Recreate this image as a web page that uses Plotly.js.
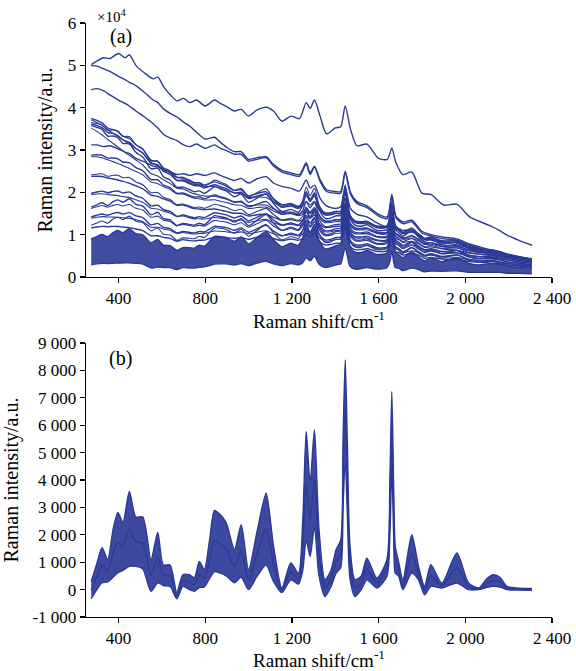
<!DOCTYPE html>
<html><head><meta charset="utf-8">
<script src="https://cdn.plot.ly/plotly-3.0.1.min.js"></script>
<style>html,body{margin:0;padding:0;background:#fff}#chart{width:576px;height:671px}</style>
</head><body><div id="chart"></div>
<script>
// ---------- Panel (a): raw spectra, intensity in units of 1e4 ----------
const shiftA = [274,300,330,360,400,430,450,480,520,560,581,610,640,670,700,730,760,800,843,870,900,935,966,1000,1040,1081,1115,1154,1195,1235,1266,1284,1304,1330,1360,1400,1425,1446,1470,1500,1546,1600,1640,1661,1680,1712,1753,1800,1841,1900,1961,2020,2100,2150,2200,2250,2307];
const rawTop1 = [5.02,5.10,5.18,5.16,5.28,5.18,5.25,5.00,4.82,4.68,4.72,4.48,4.30,4.16,4.22,4.12,4.18,4.04,4.18,4.10,4.02,3.92,3.96,3.80,3.95,4.01,3.92,3.68,3.80,3.74,4.12,3.98,4.18,3.80,3.38,3.52,3.55,4.04,3.50,3.10,3.14,2.80,2.78,3.04,2.70,2.42,2.48,1.98,1.95,1.70,1.72,1.42,1.24,1.12,0.97,0.86,0.75];
const rawTop2 = [5.00,4.98,4.92,4.86,4.74,4.66,4.60,4.52,4.36,4.18,4.12,3.96,3.86,3.78,3.66,3.56,3.42,3.26,3.30,3.18,3.06,2.96,2.96,2.78,2.82,2.84,2.66,2.52,2.46,2.42,2.70,2.46,2.62,2.30,2.06,2.02,2.02,2.50,2.00,1.78,1.68,1.48,1.42,1.95,1.44,1.30,1.34,1.08,1.00,0.94,0.90,0.78,0.66,0.58,0.52,0.47,0.43];
const rawTop3 = [4.42,4.45,4.40,4.30,4.18,4.10,4.04,3.92,3.78,3.62,3.52,3.36,3.28,3.22,3.12,3.08,3.14,3.04,3.12,3.04,2.98,2.90,2.90,2.74,2.78,2.82,2.62,2.48,2.42,2.38,2.66,2.42,2.60,2.26,2.02,1.98,1.98,2.46,1.96,1.74,1.64,1.44,1.38,1.90,1.40,1.26,1.30,1.04,0.97,0.90,0.87,0.75,0.63,0.55,0.49,0.44,0.40];
const rawTop4 = [3.12,3.12,3.08,3.10,3.02,2.95,2.92,2.80,2.72,2.62,2.60,2.52,2.48,2.42,2.44,2.40,2.44,2.40,2.46,2.40,2.34,2.28,2.33,2.22,2.32,2.37,2.22,2.14,2.10,2.03,2.29,2.10,2.17,1.86,1.68,1.62,1.66,2.13,1.62,1.48,1.42,1.26,1.19,1.58,1.20,1.10,1.12,0.92,0.87,0.80,0.76,0.68,0.60,0.52,0.47,0.43,0.40];

// ---------- Shared Raman-shift grid for the dense families ----------
const shift = [274,300,324,350,375,397,420,450,480,512,550,581,607,638,669,697,727,750,773,796,820,843,870,897,935,966,1000,1040,1081,1115,1154,1195,1230,1250,1266,1284,1304,1325,1353,1380,1404,1425,1436,1446,1456,1468,1491,1520,1546,1592,1638,1652,1661,1670,1677,1692,1712,1753,1784,1812,1841,1892,1961,2015,2061,2100,2130,2160,2192,2250,2307];

// Panel (b): baseline-corrected spectra (upper envelope, a typical one, lower envelope)
const corrHigh = [300,950,1530,1100,2200,2820,2450,3580,2650,2650,1090,2090,900,900,-100,540,540,430,1030,730,1800,2890,2730,2440,1460,2370,730,2150,3520,1600,60,970,600,2500,5770,3890,5840,2200,360,700,1460,1800,5500,8390,5300,1600,360,500,1150,420,1090,4000,7230,3500,1580,1030,360,2000,850,120,910,240,1340,240,60,400,540,450,120,50,40];
const corrMid  = [-20,480,890,690,1320,1720,1570,2210,1750,1700,520,1170,520,510,-220,330,270,180,550,420,1100,1780,1660,1470,850,1410,360,1320,2210,950,-25,660,400,1600,3800,2550,4070,1350,55,400,1030,1300,4250,6600,4000,1000,55,250,750,240,780,3000,5870,2650,1090,760,180,1300,600,-35,510,150,790,120,30,240,330,270,60,15,5];
const corrLow  = [-330,0,250,280,450,620,700,850,850,750,-60,250,150,120,-340,120,0,-60,70,100,400,660,600,500,250,450,0,500,900,300,-110,360,200,700,1820,1210,2300,500,-250,100,600,800,3000,4800,2700,400,-250,0,360,60,480,2000,4500,1800,600,500,0,600,360,-190,120,60,240,0,0,80,120,90,0,-20,-30];

// Panel (a): fluorescence baselines (units of 1e4) of the middle/lower spectra
const baseB1 = [3.75,3.65,3.55,3.45,3.35,3.26,3.17,3.05,2.95,2.85,2.71,2.61,2.53,2.45,2.38,2.32,2.26,2.21,2.17,2.13,2.10,2.07,2.04,2.00,1.96,1.92,1.88,1.84,1.79,1.75,1.71,1.67,1.63,1.61,1.60,1.58,1.56,1.54,1.51,1.48,1.45,1.42,1.40,1.39,1.37,1.36,1.32,1.28,1.24,1.18,1.13,1.11,1.10,1.09,1.08,1.06,1.04,0.99,0.96,0.92,0.89,0.84,0.77,0.71,0.67,0.63,0.60,0.57,0.54,0.48,0.42];
const baseB2 = [3.62,3.53,3.44,3.35,3.26,3.17,3.08,2.96,2.86,2.76,2.63,2.53,2.45,2.37,2.30,2.24,2.18,2.14,2.10,2.06,2.03,2.00,1.97,1.94,1.90,1.86,1.82,1.78,1.73,1.69,1.65,1.61,1.58,1.56,1.55,1.53,1.51,1.49,1.46,1.43,1.40,1.37,1.36,1.34,1.33,1.31,1.28,1.24,1.20,1.14,1.09,1.07,1.06,1.05,1.04,1.03,1.00,0.96,0.93,0.89,0.86,0.81,0.74,0.69,0.65,0.61,0.58,0.55,0.52,0.46,0.41];
const baseB3 = [3.55,3.44,3.33,3.22,3.11,3.01,2.91,2.79,2.68,2.57,2.45,2.36,2.28,2.20,2.13,2.07,2.01,1.97,1.93,1.90,1.87,1.84,1.81,1.79,1.75,1.72,1.69,1.65,1.61,1.58,1.54,1.50,1.47,1.45,1.44,1.42,1.40,1.38,1.35,1.32,1.30,1.27,1.26,1.25,1.23,1.22,1.19,1.15,1.12,1.06,1.01,1.00,0.99,0.98,0.97,0.95,0.93,0.89,0.86,0.83,0.80,0.75,0.69,0.65,0.61,0.57,0.55,0.52,0.49,0.44,0.39];
const baseB4 = [2.88,2.84,2.79,2.74,2.68,2.62,2.56,2.48,2.41,2.34,2.25,2.18,2.12,2.06,2.00,1.95,1.90,1.87,1.84,1.81,1.78,1.76,1.73,1.71,1.68,1.65,1.62,1.59,1.56,1.53,1.49,1.46,1.43,1.41,1.40,1.38,1.36,1.34,1.31,1.28,1.25,1.23,1.22,1.21,1.19,1.18,1.15,1.11,1.08,1.02,0.97,0.96,0.95,0.94,0.93,0.91,0.89,0.85,0.82,0.79,0.76,0.71,0.66,0.62,0.58,0.55,0.52,0.50,0.47,0.42,0.37];
const baseB5 = [2.41,2.38,2.35,2.31,2.27,2.23,2.19,2.13,2.07,2.01,1.94,1.88,1.83,1.78,1.73,1.69,1.65,1.62,1.60,1.58,1.56,1.54,1.52,1.50,1.48,1.46,1.44,1.42,1.40,1.38,1.35,1.32,1.30,1.28,1.27,1.26,1.24,1.22,1.19,1.17,1.14,1.12,1.11,1.10,1.09,1.08,1.05,1.02,0.99,0.94,0.89,0.88,0.87,0.86,0.85,0.84,0.82,0.78,0.75,0.72,0.70,0.66,0.61,0.57,0.54,0.51,0.49,0.46,0.44,0.39,0.35];
const baseB6 = [1.98,1.96,1.94,1.92,1.89,1.86,1.83,1.79,1.74,1.69,1.63,1.58,1.54,1.50,1.46,1.43,1.40,1.38,1.37,1.36,1.35,1.34,1.33,1.32,1.31,1.30,1.29,1.28,1.27,1.25,1.23,1.21,1.19,1.17,1.16,1.15,1.13,1.11,1.09,1.06,1.04,1.02,1.01,1.00,0.99,0.98,0.95,0.92,0.89,0.85,0.80,0.79,0.78,0.77,0.77,0.75,0.73,0.70,0.67,0.65,0.62,0.59,0.55,0.51,0.48,0.46,0.44,0.42,0.40,0.36,0.32];
const baseB7 = [1.62,1.61,1.60,1.58,1.56,1.54,1.52,1.49,1.45,1.41,1.36,1.32,1.29,1.26,1.23,1.21,1.19,1.18,1.17,1.16,1.16,1.16,1.15,1.15,1.15,1.14,1.14,1.13,1.12,1.11,1.10,1.08,1.06,1.05,1.04,1.03,1.01,0.99,0.97,0.95,0.93,0.91,0.90,0.89,0.88,0.87,0.85,0.82,0.79,0.75,0.71,0.70,0.69,0.69,0.68,0.67,0.65,0.62,0.60,0.58,0.56,0.53,0.49,0.46,0.43,0.41,0.39,0.37,0.35,0.32,0.28];
const baseB8 = [1.42,1.41,1.40,1.39,1.37,1.35,1.33,1.30,1.27,1.23,1.18,1.15,1.12,1.09,1.06,1.04,1.03,1.02,1.02,1.02,1.02,1.02,1.02,1.02,1.02,1.02,1.02,1.01,1.00,0.99,0.98,0.97,0.95,0.94,0.93,0.92,0.90,0.89,0.87,0.85,0.83,0.81,0.80,0.80,0.79,0.78,0.76,0.73,0.71,0.67,0.63,0.62,0.62,0.61,0.61,0.60,0.58,0.56,0.54,0.52,0.50,0.47,0.44,0.41,0.39,0.37,0.35,0.33,0.32,0.29,0.26];
const baseB9 = [1.19,1.18,1.17,1.16,1.15,1.13,1.11,1.08,1.05,1.02,0.98,0.95,0.92,0.90,0.88,0.87,0.86,0.86,0.86,0.86,0.87,0.87,0.88,0.88,0.89,0.89,0.89,0.89,0.89,0.88,0.87,0.86,0.85,0.84,0.83,0.82,0.81,0.80,0.78,0.76,0.74,0.72,0.71,0.71,0.70,0.69,0.67,0.65,0.63,0.60,0.57,0.56,0.55,0.55,0.54,0.53,0.52,0.50,0.48,0.46,0.45,0.42,0.39,0.37,0.35,0.33,0.31,0.30,0.28,0.26,0.23];
const baseDenseTop = [0.87,0.86,0.85,0.84,0.83,0.82,0.80,0.78,0.76,0.73,0.70,0.68,0.66,0.65,0.64,0.64,0.64,0.64,0.65,0.65,0.66,0.67,0.68,0.69,0.70,0.71,0.71,0.72,0.72,0.72,0.71,0.70,0.69,0.68,0.68,0.67,0.66,0.65,0.63,0.62,0.60,0.59,0.58,0.58,0.57,0.56,0.55,0.53,0.51,0.49,0.46,0.45,0.45,0.44,0.44,0.43,0.42,0.40,0.39,0.37,0.36,0.34,0.32,0.30,0.28,0.27,0.26,0.25,0.24,0.22,0.20];
const baseDenseBottom = [0.32,0.31,0.30,0.29,0.28,0.27,0.26,0.25,0.24,0.23,0.22,0.21,0.21,0.21,0.21,0.21,0.21,0.22,0.22,0.23,0.23,0.24,0.25,0.26,0.26,0.27,0.27,0.28,0.28,0.28,0.28,0.28,0.27,0.27,0.27,0.26,0.26,0.25,0.25,0.24,0.23,0.23,0.22,0.22,0.22,0.21,0.21,0.20,0.19,0.18,0.17,0.17,0.17,0.16,0.16,0.16,0.15,0.15,0.14,0.14,0.13,0.13,0.12,0.11,0.11,0.10,0.10,0.10,0.09,0.09,0.08];

// Tick labels
const xTickVals = [400,800,1200,1600,2000,2400];
const xTickText = ['400','800','1 200','1 600','2 000','2 400'];
const yTopVals = [0,1,2,3,4,5,6];
const yTopText = ['0','1','2','3','4','5','6'];
const yBotVals = [-1000,0,1000,2000,3000,4000,5000,6000,7000,8000,9000];
const yBotText = ['-1 000','0','1 000','2 000','3 000','4 000','5 000','6 000','7 000','8 000','9 000'];

// ---------- Build traces ----------
const blue = '#2c3a97';
const lw = 1.4;
const traces = [];
const addLine = (x, y, xa, ya, extra) => traces.push(Object.assign({type:'scatter', mode:'lines', x:x, y:y, xaxis:xa, yaxis:ya, line:{color:blue, width:lw, shape:'spline', smoothing:0.7}, hoverinfo:'skip'}, extra||{}));

// raw spectrum = its baseline + its corrected spectrum (1e4 units)
const raw = (base, corr) => base.map((b, j) => b + corr[j] / 10000);

// dense low band in (a)
addLine(shift, raw(baseDenseBottom, corrLow), 'x', 'y');
addLine(shift, raw(baseDenseTop, corrHigh), 'x', 'y', {fill:'tonexty', fillcolor:'rgba(44,58,151,0.9)'});
const midBases = [baseB9, baseB8, baseB7, baseB6, baseB5, baseB4, baseB3, baseB2, baseB1];
const midCorrA = [corrLow, corrMid, corrHigh, corrMid, corrLow, corrMid, corrHigh, corrMid, corrMid];
const midCorrB = [corrHigh, corrLow, corrMid, corrLow, corrMid, corrLow, corrLow, corrHigh, corrLow];
midBases.forEach((b, i) => {
  addLine(shift, raw(b, midCorrA[i]), 'x', 'y');
  addLine(shift, raw(b, midCorrB[i]), 'x', 'y', {line:{color:blue, width:1.1, shape:'spline', smoothing:0.7}});
});
[rawTop4, rawTop3, rawTop2, rawTop1].forEach(y => addLine(shiftA, y, 'x', 'y'));

// (b) corrected band
addLine(shift, corrLow, 'x2', 'y2');
addLine(shift, corrHigh, 'x2', 'y2', {fill:'tonexty', fillcolor:'rgba(44,58,151,0.92)'});
addLine(shift, corrMid, 'x2', 'y2');

const fam = 'Liberation Serif, Times New Roman, serif';
const axBase = {showline:true, linecolor:'black', linewidth:1.3, ticks:'outside', ticklen:5, tickwidth:1.3, tickcolor:'black', showgrid:false, zeroline:false, tickfont:{family:fam, size:17, color:'black'}};
const xTitle = {text:'Raman shift/cm<sup>-1</sup>', font:{family:fam, size:19, color:'black'}, standoff:7};
const yTitle = {text:'Raman intensity/a.u.', font:{family:fam, size:20, color:'black'}};

const layout = {
  width:576, height:671, margin:{l:86, r:24, t:23, b:54},
  paper_bgcolor:'white', plot_bgcolor:'white', showlegend:false,
  font:{family:fam, size:17, color:'black'},
  xaxis: Object.assign({}, axBase, {domain:[0,1], anchor:'y', range:[250,2400], tickvals:xTickVals, ticktext:xTickText, title:xTitle}),
  yaxis: Object.assign({}, axBase, {domain:[0.5724,1], anchor:'x', range:[0,6], tickvals:yTopVals, ticktext:yTopText, title:Object.assign({}, yTitle, {standoff:9})}),
  xaxis2: Object.assign({}, axBase, {domain:[0,1], anchor:'y2', range:[250,2400], tickvals:xTickVals, ticktext:xTickText, title:xTitle}),
  yaxis2: Object.assign({}, axBase, {domain:[0,0.4613], anchor:'x2', range:[-1000,9000], tickvals:yBotVals, ticktext:yBotText, title:Object.assign({}, yTitle, {standoff:8})}),
  annotations:[
    {xref:'paper', yref:'paper', x:0.019, y:1.012, xanchor:'left', yanchor:'middle', text:'×10<sup>4</sup>', showarrow:false, font:{family:fam, size:15, color:'black'}},
    {xref:'paper', yref:'paper', x:0.075, y:0.978, xanchor:'center', yanchor:'middle', text:'(a)', showarrow:false, font:{family:fam, size:20, color:'black'}},
    {xref:'paper', yref:'paper', x:0.075, y:0.436, xanchor:'center', yanchor:'middle', text:'(b)', showarrow:false, font:{family:fam, size:20, color:'black'}}
  ]
};
Plotly.newPlot('chart', traces, layout, {staticPlot:true, displayModeBar:false});
</script></body></html>
